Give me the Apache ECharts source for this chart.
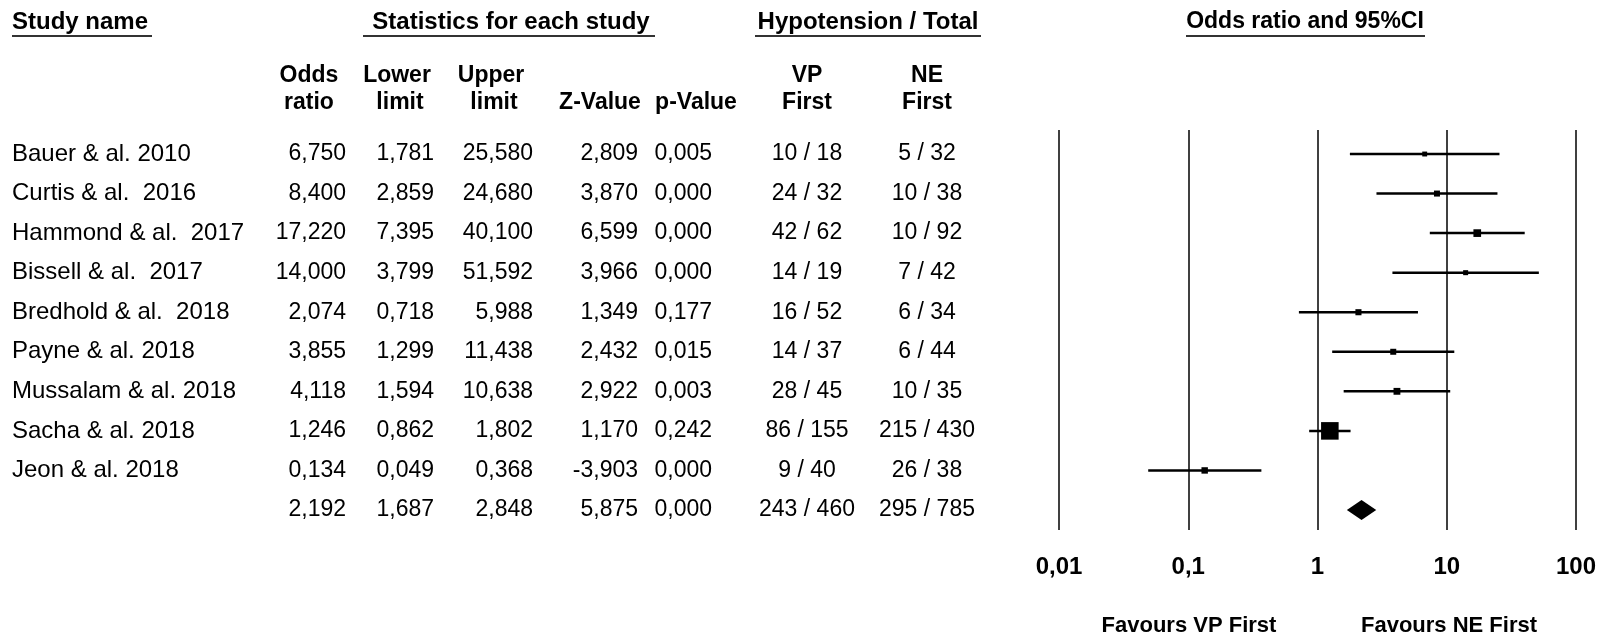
<!DOCTYPE html>
<html>
<head>
<meta charset="utf-8">
<script src="https://cdn.jsdelivr.net/npm/echarts@6/dist/echarts.min.js"></script>
<style>html,body{margin:0;padding:0;background:#fff}#c{width:1613px;height:638px}</style>
</head>
<body>
<div id="c"></div>
<script>
// ---------- data ----------
const studyNames = ['Bauer & al. 2010', 'Curtis & al.  2016', 'Hammond & al.  2017', 'Bissell & al.  2017',
  'Bredhold & al.  2018', 'Payne & al. 2018', 'Mussalam & al. 2018', 'Sacha & al. 2018', 'Jeon & al. 2018', ''];
const oddsRatio  = [6.750, 8.400, 17.220, 14.000, 2.074, 3.855, 4.118, 1.246, 0.134, 2.192];
const lowerLimit = [1.781, 2.859, 7.395, 3.799, 0.718, 1.299, 1.594, 0.862, 0.049, 1.687];
const upperLimit = [25.580, 24.680, 40.100, 51.592, 5.988, 11.438, 10.638, 1.802, 0.368, 2.848];
const zValue     = [2.809, 3.870, 6.599, 3.966, 1.349, 2.432, 2.922, 1.170, -3.903, 5.875];
const pValue     = [0.005, 0.000, 0.000, 0.000, 0.177, 0.015, 0.003, 0.242, 0.000, 0.000];
const vpEvents   = [10, 24, 42, 14, 16, 14, 28, 86, 9, 243];
const vpTotal    = [18, 32, 62, 19, 52, 37, 45, 155, 40, 460];
const neEvents   = [5, 10, 10, 7, 6, 6, 10, 215, 26, 295];
const neTotal    = [32, 38, 92, 42, 34, 44, 35, 430, 38, 785];
const studyWeights = [2.2, 3.3, 5.4, 2.3, 3.4, 3.3, 4.3, 28.3, 3.8]; // relative weights (box size)
const tickLabels = ['0,01', '0,1', '1', '10', '100'];
const favourLabels = ['Favours VP First', 'Favours NE First'];

// ---------- layout ----------
const FONT = '"Liberation Sans", Arial, sans-serif';
const fmt = v => v.toFixed(3).replace('.', ',');
const nRows = oddsRatio.length;
const columns = [
  { x: 12,  align: 'left',   size: 24, get: i => studyNames[i] },
  { x: 346, align: 'right',  size: 23, get: i => fmt(oddsRatio[i]) },
  { x: 434, align: 'right',  size: 23, get: i => fmt(lowerLimit[i]) },
  { x: 533, align: 'right',  size: 23, get: i => fmt(upperLimit[i]) },
  { x: 638, align: 'right',  size: 23, get: i => fmt(zValue[i]) },
  { x: 712, align: 'right',  size: 23, get: i => fmt(pValue[i]) },
  { x: 807, align: 'center', size: 23, get: i => vpEvents[i] + ' / ' + vpTotal[i] },
  { x: 927, align: 'center', size: 23, get: i => neEvents[i] + ' / ' + neTotal[i] }
];
const tableData = [];
columns.forEach((c, ci) => { for (let i = 0; i < nRows; i++) tableData.push([c.x, i, ci]); });
const forestData = oddsRatio.map((v, i) => [v, i, lowerLimit[i], upperLimit[i], i < studyWeights.length ? studyWeights[i] : 0]);

const GRID_TOP = 130, GRID_BOTTOM = 108;
const Y_MIN = -0.607, Y_MAX = 9.506;

function headerText(text, x, y, align, size) {
  return { type: 'text', x: x, y: y, style: { text: text, fill: '#000', font: 'bold ' + size + 'px ' + FONT, align: align, verticalAlign: 'middle' } };
}
function underline(x1, x2, y) {
  return { type: 'line', shape: { x1: x1, y1: y, x2: x2, y2: y }, style: { stroke: '#333', lineWidth: 2 } };
}

const chart = echarts.init(document.getElementById('c'), null, { renderer: 'canvas' });
chart.setOption({
  animation: false,
  backgroundColor: '#fff',
  grid: [
    { left: 0, right: 0, top: GRID_TOP, bottom: GRID_BOTTOM },
    { left: 1059, right: 37, top: GRID_TOP, bottom: GRID_BOTTOM }
  ],
  xAxis: [
    { type: 'value', gridIndex: 0, min: 0, max: 1613, show: false },
    { type: 'log', logBase: 10, gridIndex: 1, min: 0.01, max: 100,
      axisLine: { show: false }, axisTick: { show: false },
      splitLine: { show: true, lineStyle: { color: '#000', width: 1.5 } },
      axisLabel: { show: true, showMinLabel: true, showMaxLabel: true, margin: 25, color: '#000', fontSize: 24, fontWeight: 'bold', fontFamily: FONT,
        formatter: v => tickLabels[Math.round(Math.log10(v)) + 2] } }
  ],
  yAxis: [
    { type: 'value', gridIndex: 0, min: Y_MIN, max: Y_MAX, inverse: true, show: false },
    { type: 'value', gridIndex: 1, min: Y_MIN, max: Y_MAX, inverse: true, show: false }
  ],
  series: [
    {
      type: 'custom', xAxisIndex: 0, yAxisIndex: 0, data: tableData, silent: true,
      encode: { x: 0, y: 1 },
      renderItem: function (params, api) {
        const ci = api.value(2), row = api.value(1);
        const p = api.coord([api.value(0), row]);
        const col = columns[ci];
        return { type: 'text', x: p[0], y: p[1],
          style: { text: col.get(row), fill: '#000', font: col.size + 'px ' + FONT, align: col.align, verticalAlign: 'middle' } };
      }
    },
    {
      type: 'custom', xAxisIndex: 1, yAxisIndex: 1, data: forestData, silent: true,
      encode: { x: 0, y: 1 },
      renderItem: function (params, api) {
        const row = api.value(1);
        const c = api.coord([api.value(0), row]);
        const lo = api.coord([api.value(2), row]);
        const hi = api.coord([api.value(3), row]);
        const w = api.value(4);
        if (row === nRows - 1) {
          const h = 10;
          return { type: 'polygon', shape: { points: [[lo[0], c[1]], [c[0], c[1] - h], [hi[0], c[1]], [c[0], c[1] + h]] },
            style: { fill: '#000' } };
        }
        const s = 3.3 * Math.sqrt(w);
        return { type: 'group', children: [
          { type: 'line', shape: { x1: lo[0], y1: c[1], x2: hi[0], y2: c[1] }, style: { stroke: '#000', lineWidth: 2.5 } },
          { type: 'rect', shape: { x: c[0] - s / 2, y: c[1] - s / 2, width: s, height: s }, style: { fill: '#000' } }
        ] };
      }
    }
  ],
  graphic: [
    headerText('Study name', 12, 22, 'left', 24),
    underline(12, 152, 36),
    headerText('Statistics for each study', 511, 22, 'center', 24),
    underline(363, 655, 36),
    headerText('Hypotension / Total', 868, 22, 'center', 24),
    underline(755, 981, 36),
    headerText('Odds ratio and 95%CI', 1305, 22, 'center', 23),
    underline(1186, 1425, 36),
    headerText('Odds', 309, 76, 'center', 23),
    headerText('ratio', 309, 103, 'center', 23),
    headerText('Lower', 397, 76, 'center', 23),
    headerText('limit', 400, 103, 'center', 23),
    headerText('Upper', 491, 76, 'center', 23),
    headerText('limit', 494, 103, 'center', 23),
    headerText('Z-Value', 600, 103, 'center', 23),
    headerText('p-Value', 696, 103, 'center', 23),
    headerText('VP', 807, 76, 'center', 23),
    headerText('First', 807, 103, 'center', 23),
    headerText('NE', 927, 76, 'center', 23),
    headerText('First', 927, 103, 'center', 23),
    headerText(favourLabels[0], 1189, 626, 'center', 22),
    headerText(favourLabels[1], 1449, 626, 'center', 22)
  ]
});
</script>
</body>
</html>
